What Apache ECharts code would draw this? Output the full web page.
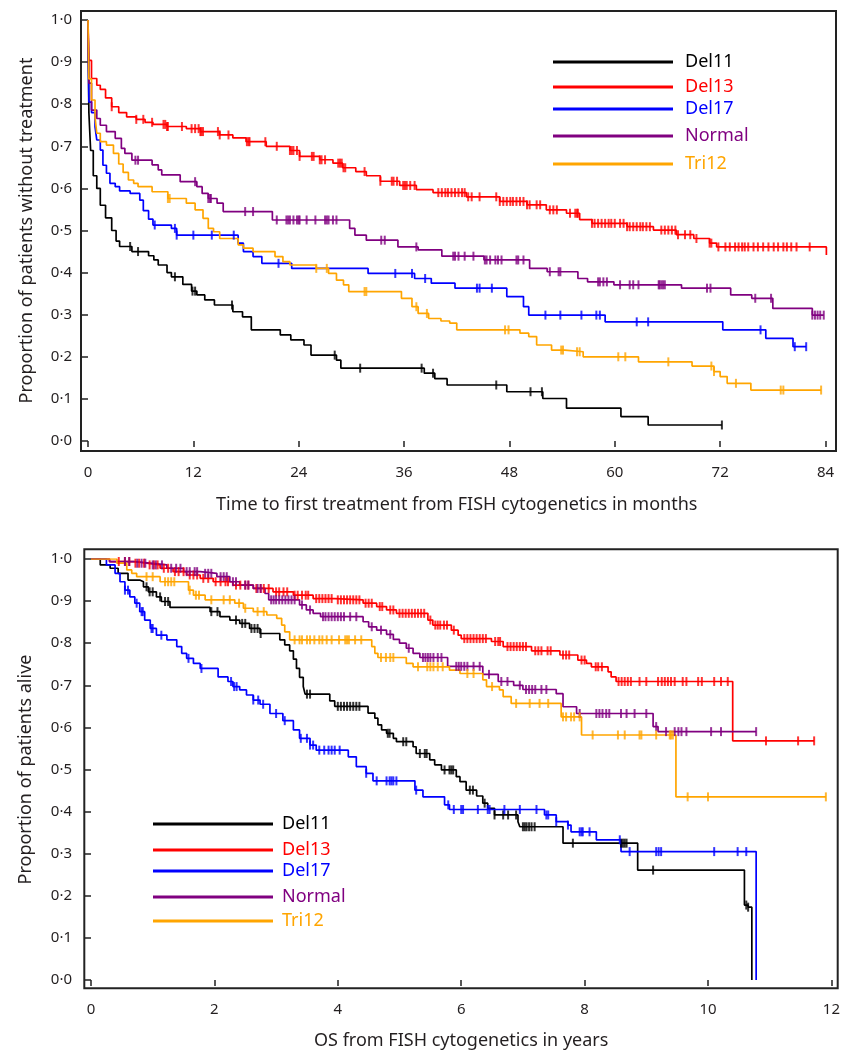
<!DOCTYPE html>
<html><head><meta charset="utf-8">
<script src="https://cdn.jsdelivr.net/npm/echarts@6/dist/echarts.min.js"></script>
<style>html,body{margin:0;padding:0;background:#fff}#c{width:843px;height:1052px}</style>
</head><body><div id="c"></div>
<script>
// ---------- shared ----------
const groups = ['Del11', 'Del13', 'Del17', 'Normal', 'Tri12'];
const groupColors = ['#000000', '#ff0000', '#0000ff', '#800080', '#ffa500'];

// ---------- top panel: time to first treatment (months) ----------
const ttftXTicks = [0, 12, 24, 36, 48, 60, 72, 84];
const topDel11Time = [0, 0.1, 0.3, 0.6, 1.0, 1.4, 2.0, 2.7, 3.2, 3.6, 5.0, 6.9, 7.5, 8.0, 9.0, 9.5, 10.8, 11.8, 12.4, 13.3, 14.4, 16.5, 17.6, 18.6, 21.9, 23.1, 24.6, 25.4, 28.3, 28.8, 38.3, 39.5, 40.9, 47.7, 51.8, 54.5, 60.7, 63.8, 72.2];
const topDel11Surv = [1, 0.78, 0.69, 0.63, 0.60, 0.56, 0.53, 0.50, 0.475, 0.462, 0.45, 0.44, 0.43, 0.418, 0.40, 0.39, 0.372, 0.356, 0.347, 0.335, 0.323, 0.307, 0.295, 0.264, 0.252, 0.24, 0.228, 0.204, 0.192, 0.173, 0.161, 0.148, 0.133, 0.117, 0.101, 0.078, 0.058, 0.038, 0.038];
const topDel11Cens = [4.8, 5.7, 9.9, 11.9, 12.2, 16.4, 28.1, 31.0, 38.0, 39.3, 46.5, 50.4, 51.7, 72.2];

const topDel13Time = [0, 0.1, 0.4, 1.0, 1.4, 2.0, 2.7, 3.5, 4.4, 5.5, 6.5, 7.4, 9.0, 11.2, 12.8, 15.0, 16.5, 18.0, 20.3, 23.0, 24.1, 26.4, 27.9, 29.0, 30.5, 31.7, 33.3, 35.5, 37.4, 39.3, 43.1, 46.9, 50.0, 52.2, 54.5, 56.0, 57.4, 61.4, 64.4, 67.0, 69.0, 70.8, 71.6, 84.1];
const topDel13Surv = [1, 0.904, 0.861, 0.845, 0.835, 0.815, 0.794, 0.78, 0.77, 0.764, 0.757, 0.752, 0.747, 0.742, 0.735, 0.727, 0.72, 0.711, 0.70, 0.69, 0.676, 0.668, 0.66, 0.649, 0.64, 0.63, 0.617, 0.607, 0.597, 0.59, 0.58, 0.569, 0.561, 0.549, 0.541, 0.526, 0.517, 0.509, 0.501, 0.49, 0.481, 0.47, 0.461, 0.442];
const topDel13Cens = [2.7, 5.5, 6.3, 7.3, 8.6, 8.8, 9.0, 9.1, 10.7, 11.8, 12.2, 12.6, 12.8, 12.9, 13.1, 14.8, 15.0, 16.0, 18.1, 18.3, 18.4, 20.2, 21.5, 23.0, 23.2, 23.4, 23.8, 24.1, 25.5, 25.7, 26.4, 26.6, 27.0, 28.5, 28.7, 28.9, 29.1, 29.3, 31.5, 33.3, 34.6, 34.8, 35.2, 35.9, 36.1, 36.3, 36.7, 37.2, 39.9, 40.3, 40.7, 41.0, 41.4, 41.8, 42.2, 42.6, 42.9, 43.3, 43.7, 44.6, 46.5, 46.9, 47.3, 47.7, 48.1, 48.4, 48.8, 49.2, 49.6, 50.0, 50.3, 51.1, 51.5, 52.6, 53.0, 53.4, 54.9, 55.5, 55.7, 55.8, 57.4, 57.7, 58.1, 58.5, 58.9, 59.3, 59.6, 60.0, 60.6, 61.0, 61.4, 61.7, 62.1, 62.5, 62.9, 63.2, 63.6, 64.0, 65.3, 65.7, 66.1, 66.5, 66.9, 67.2, 68.0, 68.6, 69.3, 70.8, 71.0, 71.8, 72.6, 73.1, 73.7, 74.1, 74.5, 74.8, 75.2, 75.8, 76.3, 76.9, 77.5, 78.1, 78.6, 79.2, 79.6, 80.1, 80.7, 82.2];

const topDel17Time = [0, 0.1, 0.4, 0.8, 1.0, 1.4, 1.7, 2.1, 2.5, 3.1, 3.6, 4.8, 5.9, 6.3, 6.9, 7.4, 9.5, 10.1, 17.1, 17.7, 18.8, 19.8, 23.2, 31.9, 37.2, 39.1, 41.8, 47.7, 49.6, 50.2, 58.9, 72.3, 77.2, 80.3, 81.8];
const topDel17Surv = [1, 0.805, 0.78, 0.746, 0.715, 0.691, 0.655, 0.636, 0.612, 0.604, 0.594, 0.588, 0.572, 0.547, 0.527, 0.513, 0.505, 0.489, 0.47, 0.45, 0.438, 0.422, 0.41, 0.398, 0.386, 0.375, 0.363, 0.343, 0.319, 0.299, 0.283, 0.264, 0.244, 0.224, 0.224];
const topDel17Cens = [7.6, 9.9, 10.1, 12.0, 14.1, 16.6, 21.7, 35.0, 36.9, 38.4, 44.3, 44.6, 46.0, 52.1, 53.8, 56.2, 57.9, 58.3, 62.5, 63.8, 76.6, 80.5, 81.8];

const topNormalTime = [0, 0.1, 0.4, 1.0, 1.4, 2.1, 3.1, 3.8, 4.2, 5.0, 7.3, 8.0, 8.4, 10.5, 12.4, 13.0, 13.7, 14.7, 15.4, 21.0, 29.8, 30.4, 31.7, 35.3, 37.6, 40.3, 45.1, 50.3, 52.3, 55.8, 56.9, 59.9, 67.6, 73.2, 75.6, 78.0, 82.5, 83.8];
const topNormalSurv = [1, 0.85, 0.786, 0.766, 0.75, 0.735, 0.719, 0.695, 0.683, 0.667, 0.656, 0.644, 0.632, 0.616, 0.604, 0.588, 0.576, 0.565, 0.545, 0.525, 0.505, 0.489, 0.477, 0.461, 0.454, 0.439, 0.43, 0.41, 0.402, 0.386, 0.378, 0.371, 0.363, 0.347, 0.339, 0.315, 0.299, 0.299];
const topNormalCens = [5.4, 5.7, 12.2, 13.7, 13.9, 14.0, 17.9, 18.8, 21.5, 22.6, 22.8, 23.0, 23.4, 23.8, 24.0, 24.1, 24.9, 25.9, 27.0, 27.2, 27.4, 27.9, 28.3, 33.4, 33.8, 37.4, 41.6, 41.8, 42.2, 42.9, 43.9, 45.2, 45.4, 45.8, 46.4, 46.7, 47.1, 48.8, 49.0, 49.6, 52.6, 53.6, 53.8, 58.1, 58.3, 58.7, 59.1, 60.6, 61.7, 62.1, 62.7, 65.0, 65.1, 65.3, 65.5, 65.7, 70.5, 70.9, 76.0, 77.8, 82.5, 82.8, 83.1, 83.4, 83.8];

const topTri12Time = [0, 0.1, 0.4, 0.8, 1.0, 1.4, 2.1, 2.9, 3.5, 4.0, 4.6, 5.2, 5.7, 7.3, 9.1, 11.2, 12.2, 13.1, 13.7, 14.3, 15.0, 17.1, 17.7, 18.8, 21.3, 22.2, 23.0, 26.0, 27.4, 28.3, 29.1, 29.7, 35.7, 36.9, 37.6, 38.8, 40.2, 41.2, 42.0, 49.2, 50.2, 51.1, 52.8, 54.3, 56.4, 62.7, 68.8, 71.3, 72.0, 72.8, 75.5, 83.5];
const topTri12Surv = [1, 0.86, 0.81, 0.77, 0.731, 0.711, 0.703, 0.683, 0.658, 0.638, 0.62, 0.612, 0.604, 0.592, 0.576, 0.565, 0.549, 0.529, 0.505, 0.497, 0.481, 0.466, 0.458, 0.45, 0.438, 0.426, 0.418, 0.41, 0.398, 0.382, 0.371, 0.355, 0.339, 0.319, 0.303, 0.291, 0.285, 0.28, 0.264, 0.256, 0.248, 0.228, 0.216, 0.212, 0.2, 0.188, 0.178, 0.165, 0.153, 0.137, 0.121, 0.121];
const topTri12Cens = [9.1, 9.3, 26.0, 27.2, 31.5, 31.7, 37.4, 38.6, 47.5, 47.9, 53.9, 54.1, 55.7, 56.0, 60.4, 61.2, 66.1, 71.0, 71.3, 73.8, 78.9, 79.2, 83.5];

// ---------- bottom panel: overall survival (years) ----------
const osXTicks = [0, 2, 4, 6, 8, 10, 12];
const botDel11Time = [0, 0.15, 0.31, 0.44, 0.6, 0.79, 0.85, 0.93, 1.06, 1.14, 1.28, 1.93, 2.09, 2.25, 2.41, 2.57, 2.74, 3.06, 3.14, 3.22, 3.28, 3.33, 3.38, 3.44, 3.47, 3.87, 3.95, 4.49, 4.6, 4.65, 4.71, 4.79, 4.9, 4.95, 5.22, 5.27, 5.49, 5.57, 5.68, 5.92, 5.98, 6.08, 6.25, 6.35, 6.43, 6.54, 6.92, 6.95, 7.65, 8.86, 10.59, 10.65, 10.71];
const botDel11Surv = [1, 0.986, 0.978, 0.966, 0.95, 0.946, 0.934, 0.922, 0.91, 0.899, 0.885, 0.875, 0.863, 0.855, 0.847, 0.835, 0.823, 0.808, 0.796, 0.782, 0.762, 0.74, 0.719, 0.697, 0.679, 0.663, 0.65, 0.634, 0.622, 0.606, 0.594, 0.586, 0.574, 0.566, 0.554, 0.538, 0.523, 0.511, 0.499, 0.483, 0.471, 0.451, 0.437, 0.42, 0.408, 0.392, 0.376, 0.364, 0.325, 0.261, 0.178, 0.173, 0];
const botDel11Cens = [0.9, 0.95, 1.0, 1.12, 1.2, 1.25, 1.95, 2.05, 2.35, 2.45, 2.5, 2.6, 2.65, 2.7, 2.75, 3.5, 3.55, 4.0, 4.05, 4.1, 4.15, 4.2, 4.25, 4.3, 4.35, 4.81, 4.84, 5.06, 5.11, 5.33, 5.41, 5.44, 5.73, 5.81, 5.84, 5.87, 6.14, 6.19, 6.38, 6.54, 6.68, 6.76, 6.89, 7.0, 7.03, 7.06, 7.1, 7.14, 7.19, 7.81, 8.59, 8.62, 8.65, 8.68, 9.11, 10.62, 10.65];

const botDel13Time = [0, 0.3, 0.69, 0.9, 1.12, 1.33, 1.55, 1.77, 1.98, 2.3, 2.63, 2.95, 3.28, 3.6, 3.95, 4.41, 4.63, 4.79, 4.95, 5.46, 5.54, 5.84, 5.95, 6.0, 6.49, 6.68, 7.14, 7.6, 7.89, 8.03, 8.11, 8.38, 8.43, 8.51, 10.4, 11.72];
const botDel13Surv = [1, 0.994, 0.99, 0.986, 0.978, 0.97, 0.962, 0.954, 0.946, 0.938, 0.93, 0.922, 0.914, 0.906, 0.903, 0.895, 0.887, 0.879, 0.871, 0.855, 0.843, 0.831, 0.819, 0.811, 0.804, 0.792, 0.782, 0.772, 0.76, 0.752, 0.744, 0.732, 0.72, 0.709, 0.568, 0.568];
const botDel13Cens = [0.45, 0.55, 0.62, 0.72, 0.78, 0.86, 0.95, 1.02, 1.08, 1.18, 1.25, 1.36, 1.42, 1.5, 1.6, 1.66, 1.72, 1.82, 1.9, 2.02, 2.1, 2.18, 2.22, 2.35, 2.42, 2.5, 2.55, 2.68, 2.75, 2.8, 2.88, 3.0, 3.05, 3.12, 3.18, 3.3, 3.35, 3.42, 3.48, 3.52, 3.65, 3.7, 3.75, 3.8, 3.85, 3.9, 4.0, 4.05, 4.1, 4.15, 4.2, 4.25, 4.3, 4.35, 4.45, 4.5, 4.55, 4.68, 4.72, 4.85, 4.9, 5.0, 5.05, 5.1, 5.15, 5.2, 5.25, 5.3, 5.35, 5.4, 5.5, 5.58, 5.62, 5.66, 5.72, 5.77, 5.88, 6.05, 6.1, 6.15, 6.2, 6.25, 6.3, 6.35, 6.4, 6.55, 6.6, 6.63, 6.75, 6.8, 6.85, 6.9, 6.95, 7.0, 7.05, 7.2, 7.25, 7.3, 7.4, 7.45, 7.65, 7.7, 7.75, 7.95, 8.0, 8.18, 8.22, 8.28, 8.55, 8.6, 8.65, 8.7, 8.75, 8.89, 9.0, 9.19, 9.25, 9.3, 9.35, 9.4, 9.46, 9.59, 9.65, 9.84, 9.9, 10.1, 10.21, 10.32, 10.94, 11.46, 11.72];

const botDel17Time = [0, 0.25, 0.39, 0.47, 0.55, 0.63, 0.71, 0.79, 0.87, 0.96, 1.06, 1.23, 1.39, 1.47, 1.55, 1.66, 1.77, 2.06, 2.22, 2.3, 2.41, 2.52, 2.63, 2.74, 2.9, 3.11, 3.28, 3.38, 3.55, 3.65, 4.17, 4.3, 4.46, 4.57, 5.25, 5.38, 5.73, 5.81, 7.35, 7.54, 7.73, 7.78, 8.19, 8.59, 10.78];
const botDel17Surv = [1, 0.986, 0.966, 0.946, 0.926, 0.91, 0.895, 0.875, 0.855, 0.835, 0.819, 0.808, 0.792, 0.776, 0.764, 0.752, 0.74, 0.72, 0.709, 0.697, 0.689, 0.677, 0.665, 0.655, 0.633, 0.616, 0.594, 0.574, 0.558, 0.546, 0.53, 0.507, 0.491, 0.473, 0.451, 0.435, 0.416, 0.405, 0.392, 0.376, 0.368, 0.352, 0.333, 0.305, 0];
const botDel17Cens = [0.55, 0.6, 0.74, 0.82, 0.84, 0.98, 1.0, 1.14, 1.58, 1.79, 2.27, 2.32, 2.36, 2.63, 2.71, 2.79, 3.0, 3.14, 3.4, 3.5, 3.55, 3.6, 3.7, 3.78, 3.85, 3.9, 3.95, 4.03, 4.46, 4.63, 4.79, 4.84, 4.87, 4.9, 4.95, 5.27, 5.79, 5.88, 6.0, 6.03, 6.27, 6.43, 6.46, 6.7, 6.95, 7.22, 7.38, 7.41, 7.54, 7.73, 7.92, 7.95, 7.97, 8.08, 8.57, 8.73, 9.16, 9.2, 9.24, 10.1, 10.48, 10.62];

const botNormalTime = [0, 0.3, 0.69, 0.96, 1.23, 1.5, 1.77, 2.04, 2.25, 2.41, 2.63, 2.82, 2.88, 3.38, 3.49, 3.6, 3.72, 4.41, 4.5, 4.63, 4.79, 4.9, 5.0, 5.11, 5.22, 5.33, 5.78, 6.35, 6.6, 6.85, 7.0, 7.54, 7.65, 7.87, 9.11, 9.19, 10.78];
const botNormalSurv = [1, 0.994, 0.99, 0.986, 0.978, 0.97, 0.966, 0.958, 0.946, 0.938, 0.93, 0.918, 0.903, 0.891, 0.879, 0.871, 0.863, 0.851, 0.839, 0.831, 0.821, 0.809, 0.8, 0.788, 0.776, 0.766, 0.745, 0.726, 0.709, 0.7, 0.69, 0.68, 0.649, 0.633, 0.602, 0.59, 0.59];
const botNormalCens = [0.55, 0.62, 0.75, 0.82, 0.88, 1.0, 1.05, 1.15, 1.3, 1.38, 1.45, 1.55, 1.6, 1.68, 1.72, 1.85, 1.9, 1.95, 2.1, 2.15, 2.2, 2.3, 2.35, 2.5, 2.55, 2.7, 2.75, 2.92, 2.96, 3.0, 3.05, 3.1, 3.15, 3.2, 3.25, 3.3, 3.42, 3.55, 3.76, 3.8, 3.85, 3.9, 3.95, 4.0, 4.05, 4.1, 4.2, 4.3, 4.55, 4.7, 4.85, 5.15, 5.38, 5.42, 5.46, 5.5, 5.55, 5.62, 5.68, 5.92, 5.96, 6.0, 6.05, 6.1, 6.2, 6.3, 6.45, 6.65, 6.75, 6.95, 7.05, 7.1, 7.15, 7.2, 7.3, 7.38, 7.92, 8.19, 8.24, 8.29, 8.35, 8.4, 8.59, 8.68, 8.81, 9.0, 9.16, 9.32, 9.46, 9.52, 9.57, 9.65, 10.05, 10.21, 10.78];

const botTri12Time = [0, 0.42, 0.58, 0.66, 0.74, 1.12, 1.58, 1.66, 1.85, 2.33, 2.47, 2.63, 2.85, 3.01, 3.09, 3.14, 3.22, 4.55, 4.6, 4.65, 5.11, 5.22, 5.81, 5.98, 6.35, 6.41, 6.62, 6.68, 6.81, 7.62, 7.95, 9.48, 11.91];
const botTri12Surv = [1, 0.99, 0.974, 0.966, 0.958, 0.946, 0.926, 0.914, 0.903, 0.895, 0.883, 0.875, 0.867, 0.859, 0.843, 0.827, 0.808, 0.792, 0.776, 0.766, 0.752, 0.744, 0.736, 0.728, 0.713, 0.697, 0.689, 0.673, 0.657, 0.625, 0.582, 0.435, 0.435];
const botTri12Cens = [0.9, 1.0, 1.2, 1.25, 1.3, 1.35, 1.6, 1.7, 1.75, 1.95, 2.15, 2.25, 2.4, 2.5, 2.7, 2.8, 3.3, 3.38, 3.42, 3.5, 3.55, 3.62, 3.7, 3.75, 3.82, 3.9, 4.02, 4.12, 4.15, 4.18, 4.28, 4.38, 4.7, 4.78, 4.85, 4.9, 5.3, 5.45, 5.5, 5.55, 5.62, 5.7, 6.1, 6.2, 6.5, 6.89, 7.11, 7.27, 7.41, 7.65, 7.7, 7.78, 7.83, 7.92, 8.13, 8.54, 8.65, 8.89, 8.92, 9.16, 9.38, 9.4, 9.43, 9.67, 10.0, 11.91];

// ---------- build ----------
const FONT = 'Noto Sans';
const TXT = '#231f20';

function survAt(times, survs, t) {
  let s = survs[0];
  for (let i = 0; i < times.length; i++) { if (times[i] <= t) s = survs[i]; }
  return s;
}
function kmSeries(name, times, survs, cens, color, idx) {
  return [
    { type: 'line', name: name, xAxisIndex: idx, yAxisIndex: idx, step: 'end', symbol: 'none', showSymbol: false,
      lineStyle: { color: color, width: 1.7 }, itemStyle: { color: color }, silent: true, z: 2,
      data: times.map((t, i) => [t, survs[i]]) },
    { type: 'scatter', name: name + ' censored', xAxisIndex: idx, yAxisIndex: idx, symbol: 'rect', symbolSize: [2, 9],
      itemStyle: { color: color }, silent: true, z: 3,
      data: cens.map(t => [t, survAt(times, survs, t)]) }
  ];
}
const topSets = [
  [topDel11Time, topDel11Surv, topDel11Cens], [topDel13Time, topDel13Surv, topDel13Cens],
  [topDel17Time, topDel17Surv, topDel17Cens], [topNormalTime, topNormalSurv, topNormalCens],
  [topTri12Time, topTri12Surv, topTri12Cens]];
const botSets = [
  [botDel11Time, botDel11Surv, botDel11Cens], [botDel13Time, botDel13Surv, botDel13Cens],
  [botDel17Time, botDel17Surv, botDel17Cens], [botNormalTime, botNormalSurv, botNormalCens],
  [botTri12Time, botTri12Surv, botTri12Cens]];

let series = [];
groups.forEach((g, i) => { series = series.concat(kmSeries(g, topSets[i][0], topSets[i][1], topSets[i][2], groupColors[i], 0)); });
groups.forEach((g, i) => { series = series.concat(kmSeries(g, botSets[i][0], botSets[i][1], botSets[i][2], groupColors[i], 1)); });

const yFmt = v => v.toFixed(1).replace('.', '\u00b7');
function yAx(gridIndex, name, offset, margin, gap) {
  return { type: 'value', gridIndex: gridIndex, min: 0, max: 1, interval: 0.1, offset: offset,
    name: name, nameLocation: 'middle', nameGap: gap, nameRotate: 90,
    nameTextStyle: { fontFamily: FONT, fontSize: 18, color: TXT },
    axisLine: { show: false }, splitLine: { show: false },
    axisTick: { show: true, length: 6, lineStyle: { color: '#222', width: 1.5 } },
    axisLabel: { formatter: yFmt, margin: margin, fontFamily: FONT, fontSize: 15, color: TXT } };
}
function xAx(gridIndex, name, max, interval, offset, gap) {
  return { type: 'value', gridIndex: gridIndex, min: 0, max: max, interval: interval, offset: offset,
    name: name, nameLocation: 'middle', nameGap: gap,
    nameTextStyle: { fontFamily: FONT, fontSize: 18, color: TXT },
    axisLine: { show: false }, splitLine: { show: false },
    axisTick: { show: true, length: 6, lineStyle: { color: '#222', width: 1.5 } },
    axisLabel: { margin: 14, fontFamily: FONT, fontSize: 15, color: TXT } };
}
function legendItem(i, left, top, pad) {
  return { data: [groups[i]], left: left, top: top, padding: 0, icon: 'rect', itemWidth: 120, itemHeight: 3, selectedMode: false,
    textStyle: { color: groupColors[i], fontFamily: FONT, fontSize: 18, padding: [0, 0, 0, pad] } };
}
const topLegendRows = [53, 78, 100, 127, 155];
const botLegendRows = [815, 841, 862, 888, 912];

const chart = echarts.init(document.getElementById('c'), null, { renderer: 'canvas' });
chart.setOption({
  backgroundColor: '#ffffff',
  animation: false,
  grid: [
    { left: 88, right: 17.5, top: 20, bottom: 611 },
    { left: 91, right: 11, top: 559, bottom: 72 }
  ],
  xAxis: [
    xAx(0, 'Time to first treatment from FISH cytogenetics in months', ttftXTicks[ttftXTicks.length - 1], ttftXTicks[1] - ttftXTicks[0], 10, 45),
    xAx(1, 'OS from FISH cytogenetics in years', osXTicks[osXTicks.length - 1], osXTicks[1] - osXTicks[0], 8, 44)
  ],
  yAxis: [
    yAx(0, 'Proportion of patients without treatment', 7, 9, 45),
    yAx(1, 'Proportion of patients alive', 7, 12, 49)
  ],
  legend: groups.map((g, i) => legendItem(i, 553, topLegendRows[i], 7))
    .concat(groups.map((g, i) => legendItem(i, 153, botLegendRows[i], 4))),
  graphic: [
    { type: 'rect', shape: { x: 81, y: 11, width: 755, height: 440 }, style: { fill: 'none', stroke: '#222', lineWidth: 2 }, z: 10, silent: true },
    { type: 'rect', shape: { x: 84.3, y: 549.3, width: 753.4, height: 439 }, style: { fill: 'none', stroke: '#222', lineWidth: 2 }, z: 10, silent: true }
  ],
  series: series
});
</script>
</body></html>
